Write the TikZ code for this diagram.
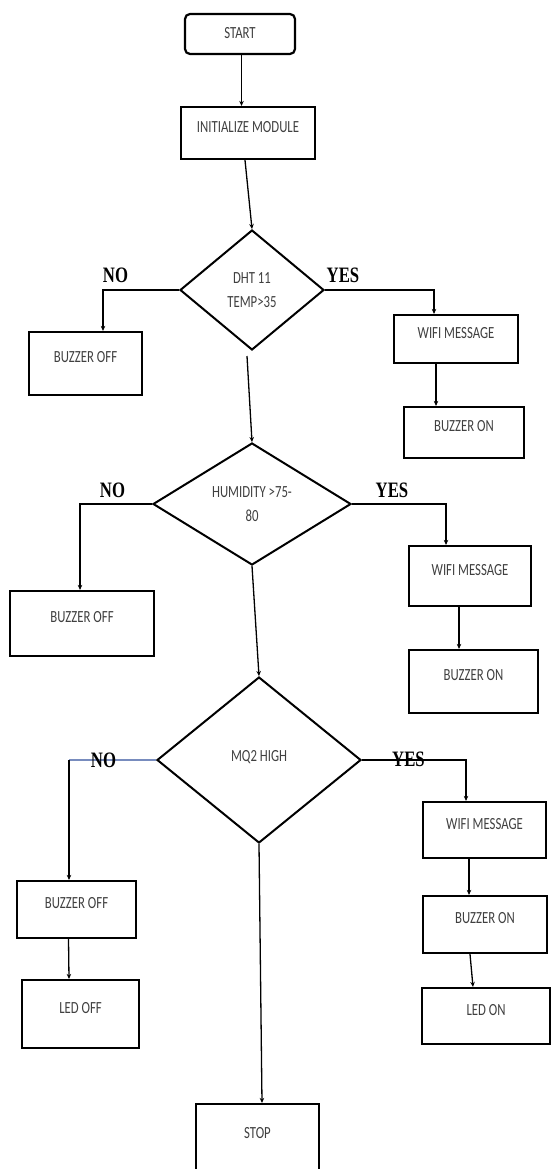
\documentclass[tikz,border=0pt]{standalone}
\usepackage{fontspec}
\usetikzlibrary{shapes.geometric,arrows.meta}
\newfontfamily\boxfont{Carlito}[FakeStretch=0.75]
\newfontfamily\ynfont{Liberation Serif}[FakeStretch=0.76]
\definecolor{nolink}{RGB}{120,140,190}
\begin{document}
\begin{tikzpicture}[x=1pt,y=-1pt,
  box/.style={draw, line width=2.2pt, rectangle, inner sep=0pt,
    font=\boxfont\fontsize{17}{20}\selectfont, text=black!75,
    text height=10.9pt, text depth=12pt},
  dia/.style={draw, diamond, line width=2pt, inner sep=0pt,
    font=\boxfont\fontsize{17}{20}\selectfont, text=black!75},
  conn/.style={line width=1.3pt, -{Stealth[length=5pt,width=4.5pt]}},
  plain/.style={line width=1.3pt},
  yn/.style={font=\ynfont\bfseries\fontsize{22}{24}\selectfont, inner sep=0pt}
]
\useasboundingbox (0,0) rectangle (552,1169);
\fill[white] (0,0) rectangle (552,1169);
\clip (0,0) rectangle (552,1169);

% nodes
\node[box, rounded corners=5pt, minimum width=110pt, minimum height=40pt, text depth=2pt] (start) at (240,34) {START};
\node[box, minimum width=134pt, minimum height=52pt] (init) at (248,133) {INITIALIZE MODULE};
\node[dia, align=center, minimum width=144pt, minimum height=120pt] (d1) at (252,290) {DHT 11\\[4pt]TEMP>35};
\node[dia, align=center, minimum width=198pt, minimum height=122pt] (d2) at (252,504) {HUMIDITY >75-\\[4pt]80};
\node[dia, minimum width=204pt, minimum height=166pt, text height=10.9pt, text depth=8pt] (d3) at (259,760) {MQ2 HIGH};

\node[box, minimum width=113pt, minimum height=63pt] (bo1) at (85.5,363.5) {BUZZER OFF};
\node[box, minimum width=124pt, minimum height=48pt] (wf1) at (456,339) {WIFI MESSAGE};
\node[box, minimum width=120pt, minimum height=51pt] (bn1) at (464,432.5) {BUZZER ON};
\node[box, minimum width=144pt, minimum height=65pt] (bo2) at (82,623.5) {BUZZER OFF};
\node[box, minimum width=122pt, minimum height=60pt] (wf2) at (470,576) {WIFI MESSAGE};
\node[box, minimum width=129pt, minimum height=63pt] (bn2) at (473.5,681.5) {BUZZER ON};
\node[box, minimum width=119pt, minimum height=57pt] (bo3) at (76.5,909.5) {BUZZER OFF};
\node[box, minimum width=117pt, minimum height=68pt] (lf) at (80.5,1014) {LED OFF};
\node[box, minimum width=123pt, minimum height=56pt] (wf3) at (484.5,830) {WIFI MESSAGE};
\node[box, minimum width=124pt, minimum height=57pt] (bn3) at (485,924.5) {BUZZER ON};
\node[box, minimum width=128pt, minimum height=56pt] (ln) at (486,1016) {LED ON};
\node[box, minimum width=123pt, minimum height=80pt, text depth=22pt] (stop) at (257.5,1144) {STOP};

% connectors
\draw[conn] ([xshift=1.5pt]start.south) -- ([xshift=-6.5pt]init.north);
\draw[conn] ([xshift=-3pt]init.south) -- (d1.north);
\draw[conn] ([shift={(-5pt,-5pt)}]d1.south) -- (d2.north);
\coordinate (c1) at (103,290);
\draw[conn] (d1.west) -- (c1) -- (c1 |- bo1.north);
\coordinate (c2) at (434,290);
\draw[conn] (d1.east) -- (c2) -- (c2 |- wf1.north);
\draw[conn] ([xshift=-20pt]wf1.south) -- ([xshift=-28pt]bn1.north);
\coordinate (c3) at (80,504);
\draw[conn] (d2.west) -- (c3) -- (c3 |- bo2.north);
\coordinate (c4) at (446,504);
\draw[conn] (d2.east) -- (c4) -- (c4 |- wf2.north);
\draw[conn] ([xshift=-11pt]wf2.south) -- ([xshift=-14.5pt]bn2.north);
\draw[conn] (d2.south) -- (d3.north);
\coordinate (c5) at (69,760);
\draw[plain, nolink] (d3.west) -- (c5);
\draw[conn] (c5) -- (c5 |- bo3.north);
\coordinate (c6) at (466,760);
\draw[conn] (d3.east) -- (c6) -- (c6 |- wf3.north);
\draw[conn] ([xshift=-15.5pt]wf3.south) -- ([xshift=-16pt]bn3.north);
\draw[conn] ([xshift=-15pt]bn3.south) -- ([xshift=-13pt]ln.north);
\draw[conn] ([xshift=-8pt]bo3.south) -- ([xshift=-11.5pt]lf.north);
\draw[conn] (d3.south) -- ([xshift=4.5pt]stop.north);

% labels
\node[yn] (no1) at (115.5,275) {NO};
\node[yn] (yes1) at (343,275) {YES};
\node[yn] (no2) at (112.5,490) {NO};
\node[yn] (yes2) at (392,490) {YES};
\node[yn] (no3) at (103.5,760) {NO};
\node[yn] (yes3) at (408.5,759) {YES};
\end{tikzpicture}
\end{document}
